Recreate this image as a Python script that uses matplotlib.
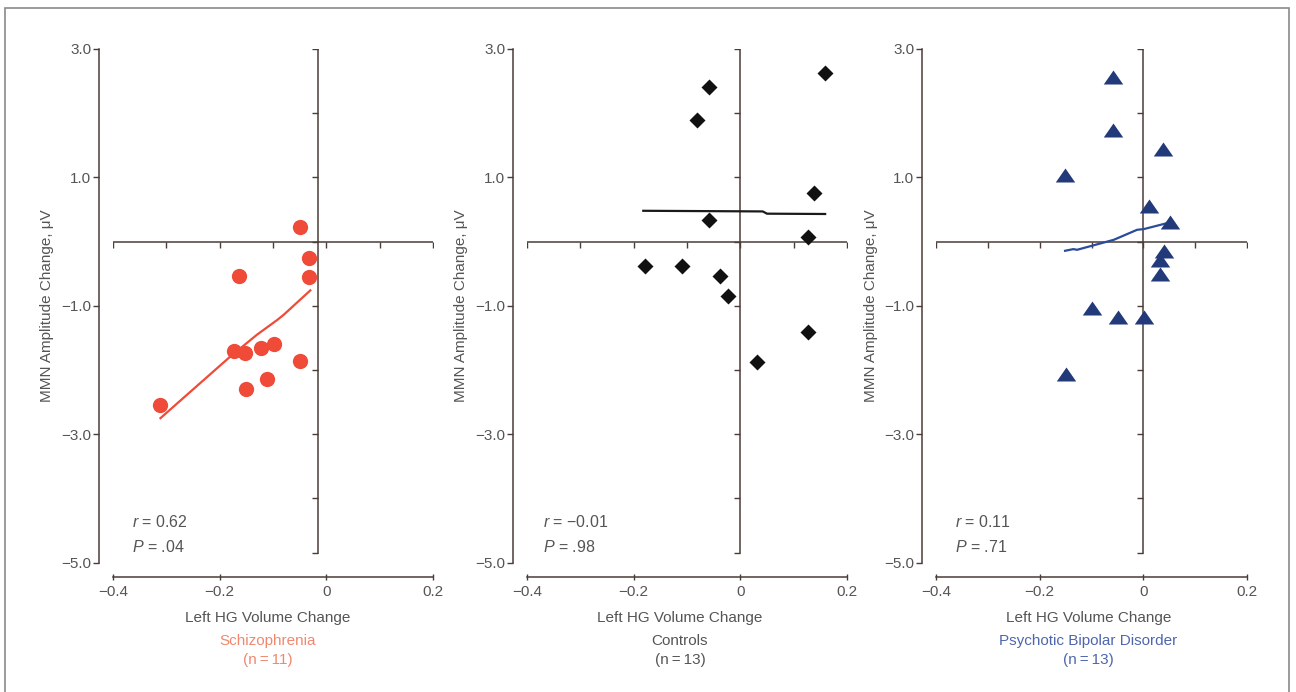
import numpy as np
import matplotlib
matplotlib.use("Agg")
import matplotlib.pyplot as plt
from matplotlib.patches import Rectangle

plt.rcParams["font.family"] = ["Liberation Sans", "DejaVu Sans"]
plt.rcParams["mathtext.fontset"] = "custom"
plt.rcParams["mathtext.it"] = "Liberation Sans:italic"
plt.rcParams["mathtext.rm"] = "Liberation Sans"

# --- data ---
# Schizophrenia (red circles + fit)
scz_x = [-0.050, -0.032, -0.0325, -0.163, -0.173, -0.152, -0.123, -0.099, -0.050, -0.111, -0.151, -0.311]
scz_y = [0.23, -0.26, -0.55, -0.53, -1.71, -1.74, -1.65, -1.59, -1.86, -2.14, -2.29, -2.54]
scz_fit_x = [-0.311, -0.180, -0.130, -0.092, -0.080, -0.030]
scz_fit_y = [-2.75, -1.79, -1.45, -1.22, -1.14, -0.76]

# Controls (black diamonds + fit)
ctl_x = [-0.059, -0.081, 0.159, 0.139, -0.059, 0.127, -0.178, -0.109, -0.039, -0.023, 0.127, 0.031]
ctl_y = [2.41, 1.89, 2.62, 0.76, 0.34, 0.07, -0.38, -0.38, -0.53, -0.855, -1.41, -1.87]
ctl_fit_x = [-0.182, 0.042, 0.050, 0.159]
ctl_fit_y = [0.48, 0.47, 0.435, 0.43]

# Psychotic bipolar disorder (blue triangles + fit)
bip_x = [-0.059, -0.059, 0.038, -0.152, 0.010, 0.051, 0.039, 0.033, 0.033, -0.0985, -0.049, 0.001, -0.150]
bip_y = [2.57, 1.74, 1.45, 1.03, 0.55, 0.30, -0.15, -0.28, -0.51, -1.03, -1.17, -1.17, -2.07]
bip_fit_x = [-0.151, -0.135, -0.128, -0.057, -0.012, 0.001, 0.046]
bip_fit_y = [-0.143, -0.117, -0.128, 0.028, 0.184, 0.195, 0.288]

group_names = ["Schizophrenia", "Controls", "Psychotic Bipolar Disorder"]
group_n = ["(n\u2009=\u200911)", "(n\u2009=\u200913)", "(n\u2009=\u200913)"]
r_labels = ["$r$ = 0.62", "$r$ = \u22120.01", "$r$ = 0.11"]
p_labels = ["$P$ = .04", "$P$ = .98", "$P$ = .71"]

y_ticks = [3.0, 1.0, -1.0, -3.0, -5.0]
y_tick_labels = ["3.0", "1.0", "\u22121.0", "\u22123.0", "\u22125.0"]
x_ticks = [-0.4, -0.2, 0.0, 0.2]
x_tick_labels = ["\u22120.4", "\u22120.2", "0", "0.2"]

# --- styling ---
axis_color = "#4a3c36"
text_color = "#555555"
red = "#f04a38"
blue_marker = "#22397a"
blue_line = "#2b4b9b"
name_colors = ["#f08870", text_color, "#4f66ad"]

tri = [(-1, -0.72), (1, -0.72), (0, 0.72), (-1, -0.72)]
panels = [
    (scz_x, scz_y, scz_fit_x, scz_fit_y, dict(marker="o", ms=11, color=red), red),
    (ctl_x, ctl_y, ctl_fit_x, ctl_fit_y, dict(marker="D", ms=8.5, color="#111111"), "#1a1a1a"),
    (bip_x, bip_y, bip_fit_x, bip_fit_y, dict(marker=tri, ms=14, color=blue_marker), blue_line),
]

W, H = 1296, 692
left_px = [113, 527, 936]
width_px = [320, 320, 311]
top_px, bot_px = 49, 562.6
vline_x = [-0.015, 0.0, 0.0]
label_cx = [0.483, 0.478, 0.49]
stat_x = [0.058, 0.05, 0.061]

fig = plt.figure(figsize=(W / 100, H / 100), dpi=100)

for i, (xs, ys, fx, fy, mk, line_color) in enumerate(panels):
    ax = fig.add_axes([left_px[i] / W, (H - bot_px) / H, width_px[i] / W, (bot_px - top_px) / H])
    ax.set_xlim(-0.4, 0.2)
    ax.set_ylim(-5, 3)
    ax.patch.set_alpha(0)
    for s in ["top", "right"]:
        ax.spines[s].set_visible(False)
    for s in ["left", "bottom"]:
        ax.spines[s].set_color(axis_color)
        ax.spines[s].set_linewidth(1.1)
    ax.spines["left"].set_position(("outward", 10))
    ax.spines["bottom"].set_position(("outward", 10.5))
    ax.spines["left"].set_bounds(-5, 3)
    ax.spines["bottom"].set_bounds(-0.4, 0.2)

    ax.set_yticks(y_ticks)
    ax.set_yticklabels(y_tick_labels)
    ax.set_xticks(x_ticks)
    ax.set_xticklabels(x_tick_labels)
    ax.tick_params(axis="y", direction="out", length=4, width=1, color=axis_color,
                   labelcolor=text_color, labelsize=11, pad=1.5)
    ax.tick_params(axis="x", direction="inout", length=5, width=1, color=axis_color,
                   labelcolor=text_color, labelsize=11, pad=3)

    # cross lines through zero
    ax.plot([-0.4, 0.2], [0, 0], color=axis_color, lw=1.1, zorder=1)
    ax.plot(np.arange(-0.4, 0.21, 0.1), np.zeros(7), ls="none", marker=3, ms=4,
            mew=1, color=axis_color, zorder=1)
    ax.plot([vline_x[i], vline_x[i]], [-4.85, 3], color=axis_color, lw=1.1, zorder=1)
    ax.plot(np.full(9, vline_x[i]), np.r_[-4.85, np.arange(-4, 4)], ls="none", marker=0,
            ms=4, mew=1, color=axis_color, zorder=1)

    ax.plot(fx, fy, color=line_color, lw=1.6, zorder=2)
    ax.plot(xs, ys, ls="none", mec="none", zorder=3, **mk)

    ax.set_ylabel("MMN Amplitude Change, \u03bcV", fontsize=11, color=text_color)
    ax.yaxis.set_label_coords(-0.185, 0.5)

    ax.text(stat_x[i], 0.08, r_labels[i], transform=ax.transAxes, fontsize=11.5,
            color=text_color, va="center", ha="left")
    ax.text(stat_x[i], 0.031, p_labels[i], transform=ax.transAxes, fontsize=11.5,
            color=text_color, va="center", ha="left")

    ax.text(label_cx[i], -0.107, "Left HG Volume Change", transform=ax.transAxes,
            fontsize=11, color=text_color, ha="center", va="center")
    ax.text(label_cx[i], -0.153, group_names[i], transform=ax.transAxes,
            fontsize=11, color=name_colors[i], ha="center", va="center")
    ax.text(label_cx[i], -0.19, group_n[i], transform=ax.transAxes,
            fontsize=11, color=name_colors[i], ha="center", va="center")

# outer frame of the figure panel
fig.patches.append(Rectangle((5 / W, -0.02), 1284 / W, 1.02 - 8 / H, transform=fig.transFigure,
                             fill=False, ec="#8a8a8a", lw=1.2))

fig.savefig("out.png", dpi=100, facecolor="white")
